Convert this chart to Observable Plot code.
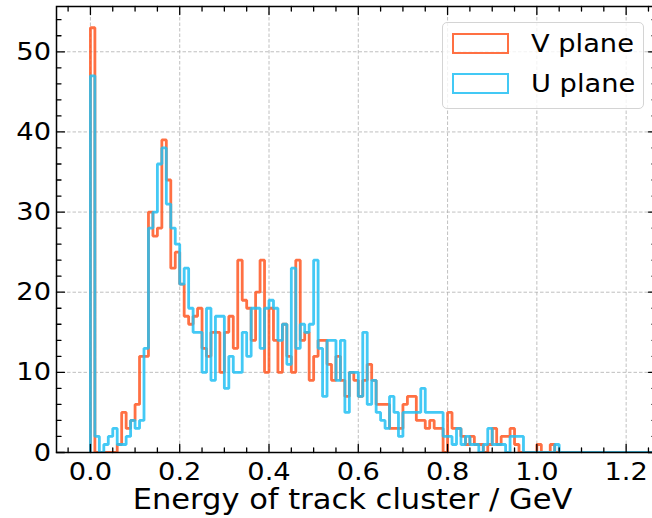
<!DOCTYPE html>
<html>
<head>
<meta charset="utf-8">
<script src="https://cdn.jsdelivr.net/npm/d3@7"></script>
<script src="https://cdn.jsdelivr.net/npm/@observablehq/plot@0.6"></script>
<style>
  html, body { margin: 0; padding: 0; background: #fff; overflow: hidden; }
  #chart { position: relative; width: 652px; height: 518px; overflow: hidden; }
  #chart svg { max-width: none !important; }
  .legend {
    position: absolute; left: 442px; top: 22px; width: 202px; height: 87px;
    box-sizing: border-box; border: 1px solid #d4d4d4; border-radius: 5px;
    background: rgba(255,255,255,0.8);
    font-family: "DejaVu Sans", sans-serif; font-size: 25px; color: #000;
  }
  .legend .swatch { position: absolute; left: 9px; width: 57px; height: 21px; box-sizing: border-box; border-width: 2.5px; border-style: solid; }
  .legend .label { position: absolute; left: 88px; line-height: 25px; transform: scaleX(1.09); transform-origin: left center; white-space: nowrap; }
</style>
</head>
<body>
<div id="chart"></div>
<script>
// Energy deposited by track clusters, histogrammed in 0.01 GeV bins starting at 0.
const binWidth = 0.01;
const histEnd = 1.52; // upper edge of the histogram range

const seriesNames = ["V plane", "U plane"];
const seriesColors = ["#ff5722", "#22bff3"];

// counts per bin, V plane
const vPlane = [
  53, 0, 0, 0, 0, 0, 1, 5, 3, 4,
  6, 12, 12, 30, 27, 28, 39, 34, 23, 25,
  21, 17, 16, 17, 18, 13, 12, 15, 15, 10,
  15, 17, 13, 24, 19, 18, 14, 20, 24, 10,
  18, 14, 10, 16, 12, 10, 24, 14, 15, 9,
  12, 14, 14, 11, 9, 12, 9, 7, 10, 9,
  7, 9, 11, 9, 6, 6, 6, 3, 3, 3,
  6, 7, 7, 4, 4, 3, 4, 3, 3, 0,
  5, 3, 3, 2, 1, 2, 1, 1, 0, 1,
  3, 1, 2, 2, 3, 1, 0, 0, 0, 0,
  1, 0, 0, 1, 0
];

// counts per bin, U plane
const uPlane = [
  47, 2, 0, 1, 2, 3, 1, 1, 2, 4,
  3, 4, 13, 28, 30, 36, 38, 31, 28, 26,
  21, 23, 18, 15, 15, 10, 18, 9, 17, 17,
  8, 12, 10, 10, 15, 12, 18, 18, 13, 18,
  19, 18, 14, 16, 11, 23, 13, 16, 15, 16,
  24, 13, 7, 14, 14, 9, 14, 5, 10, 10,
  7, 15, 6, 9, 5, 4, 3, 7, 5, 2,
  5, 5, 5, 5, 8, 5, 5, 5, 5, 2,
  2, 1, 3, 1, 2, 1, 1, 0, 1, 3,
  1, 1, 1, 0, 2, 2, 2, 0, 0, 0,
  0, 0, 0, 0, 1
];

const xMajor = [0, 0.2, 0.4, 0.6, 0.8, 1.0, 1.2];
const yMajor = [0, 10, 20, 30, 40, 50];
const xMinor = d3.range(-0.05, 1.27, 0.05).filter(v => Math.abs(v / 0.2 - Math.round(v / 0.2)) > 1e-6);
const yMinor = d3.range(0, 56, 2).filter(v => v % 10 !== 0);
const xLabel = "Energy of track cluster / GeV";

// closed step outline of a histogram, as drawn by a "step" histtype
function outline(counts) {
  const pts = [{x: 0, y: 0}];
  counts.forEach((c, i) => {
    pts.push({x: i * binWidth, y: c}, {x: (i + 1) * binWidth, y: c});
  });
  pts.push({x: counts.length * binWidth, y: 0}, {x: histEnd, y: 0});
  return pts;
}

const tickShape = (dx, dy) => ({draw(ctx, l) { ctx.moveTo(0, 0); ctx.lineTo(dx * l, dy * l); }});
const tickStyle = {stroke: "#000", strokeWidth: 1.3, anchor: "start"};
const gridStyle = {stroke: "#b0b0b0", strokeOpacity: 1, strokeWidth: 0.8, strokeDasharray: "3.5,2"};

const chart = Plot.plot({
  width: 657,
  height: 518,
  marginLeft: 56,
  marginRight: 1,
  marginTop: 6,
  marginBottom: 66,
  style: {fontFamily: "DejaVu Sans, sans-serif", fontSize: "25px", color: "#000", background: "#fff"},
  x: {domain: [-0.076, 1.268]},
  y: {domain: [0, 55.65]},
  marks: [
    Plot.gridX(xMajor, gridStyle),
    Plot.gridY(yMajor.filter(v => v > 0), gridStyle),
    Plot.line(outline(vPlane), {x: "x", y: "y", stroke: seriesColors[0], strokeOpacity: 0.85, strokeWidth: 2.8, strokeLinejoin: "miter", clip: true}),
    Plot.line(outline(uPlane), {x: "x", y: "y", stroke: seriesColors[1], strokeOpacity: 0.85, strokeWidth: 2.8, strokeLinejoin: "miter", clip: true}),
    Plot.frame({stroke: "#000", strokeWidth: 1.5}),
    // inward ticks on all four sides
    Plot.vector(xMajor, {x: d => d, frameAnchor: "bottom", length: 8, shape: tickShape(0, -1), ...tickStyle}),
    Plot.vector(xMinor, {x: d => d, frameAnchor: "bottom", length: 4.5, shape: tickShape(0, -1), ...tickStyle}),
    Plot.vector(xMajor, {x: d => d, frameAnchor: "top", length: 8, shape: tickShape(0, 1), ...tickStyle}),
    Plot.vector(xMinor, {x: d => d, frameAnchor: "top", length: 4.5, shape: tickShape(0, 1), ...tickStyle}),
    Plot.vector(yMajor, {y: d => d, frameAnchor: "left", length: 8, shape: tickShape(1, 0), ...tickStyle}),
    Plot.vector(yMinor, {y: d => d, frameAnchor: "left", length: 4.5, shape: tickShape(1, 0), ...tickStyle}),
    Plot.vector(yMajor, {y: d => d, frameAnchor: "right", length: 8, shape: tickShape(-1, 0), ...tickStyle}),
    Plot.vector(yMinor, {y: d => d, frameAnchor: "right", length: 4.5, shape: tickShape(-1, 0), ...tickStyle}),
    Plot.axisX(xMajor, {tickSize: 0, tickPadding: 10, fontSize: 25, tickFormat: d => d.toFixed(1), label: null}),
    Plot.axisY(yMajor, {tickSize: 0, tickPadding: 5.5, fontSize: 25, label: null}),
    Plot.text([xLabel], {text: d => d, frameAnchor: "bottom", lineAnchor: "top", dy: 37, dx: -4, fontSize: 28})
  ]
});

// the text of this figure is set slightly wide
d3.select(chart).selectAll("text").attr("transform", function () {
  return (this.getAttribute("transform") || "") + " scale(1.09,1)";
});

const root = document.getElementById("chart");
root.appendChild(chart);

const legend = document.createElement("div");
legend.className = "legend";
seriesNames.forEach((name, i) => {
  const sw = document.createElement("div");
  sw.className = "swatch";
  sw.style.top = (10 + i * 40) + "px";
  sw.style.borderColor = seriesColors[i];
  sw.style.opacity = 0.85;
  legend.appendChild(sw);
  const lb = document.createElement("div");
  lb.className = "label";
  lb.style.top = (8 + i * 40) + "px";
  lb.textContent = name;
  legend.appendChild(lb);
});
root.appendChild(legend);
</script>
</body>
</html>
